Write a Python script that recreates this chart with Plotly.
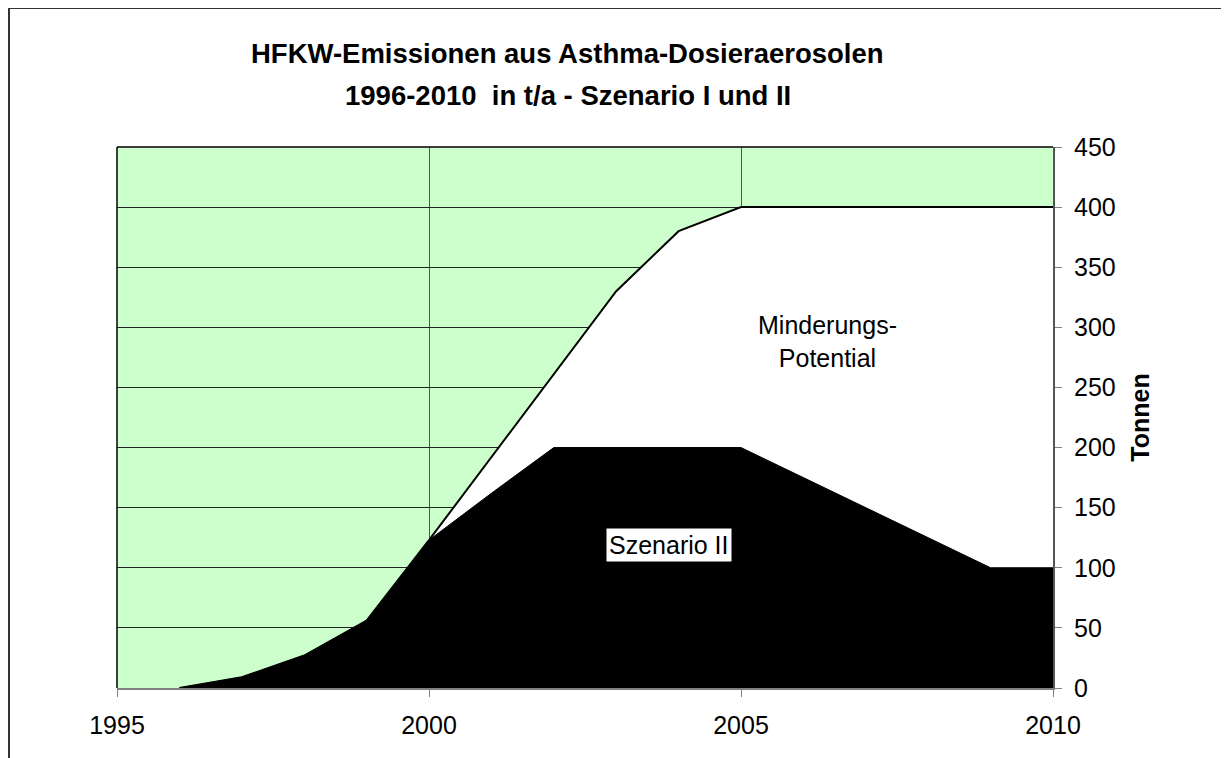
import plotly.graph_objects as go

years = [1996, 1997, 1998, 1999, 2000, 2001, 2002, 2003, 2004, 2005, 2006, 2007, 2008, 2009, 2010]
szenario_1 = [0, 9, 27, 56, 123, 192, 261, 330, 380, 400, 400, 400, 400, 400, 400]
szenario_2 = [0, 9, 27, 56, 123, 162, 200, 200, 200, 200, 175, 150, 125, 100, 100]
y_ticks = [0, 50, 100, 150, 200, 250, 300, 350, 400, 450]
x_ticks = [1995, 2000, 2005, 2010]
title_lines = ["HFKW-Emissionen aus Asthma-Dosieraerosolen",
               "1996-2010  in t/a - Szenario I und II"]

FONT = "Liberation Sans, Arial, sans-serif"

# page has an 8px body margin; figure is shifted accordingly
W, H = 1221, 750
L, T = 109, 139
PW, PH = 936, 541
R = W - L - PW
B = H - T - PH

def px_x(p):  # figure pixel -> paper x
    return (p - L) / PW

def px_y(p):  # figure pixel -> paper y
    return (T + PH - p) / PH

fig = go.Figure()
fig.add_trace(go.Scatter(
    x=years, y=szenario_1, mode="lines", fill="tozeroy",
    fillcolor="white", line=dict(color="black", width=2),
    name="Szenario I", showlegend=False, hoverinfo="skip"))
fig.add_trace(go.Scatter(
    x=years, y=szenario_2, mode="lines", fill="tozeroy",
    fillcolor="black", line=dict(color="black", width=1),
    name="Szenario II", showlegend=False, hoverinfo="skip"))

fig.update_layout(
    width=W, height=H,
    margin=dict(l=L, r=R, t=T, b=B, pad=0),
    paper_bgcolor="white",
    plot_bgcolor="#CCFFCC",
    font=dict(family=FONT, size=25, color="black"),
    xaxis=dict(
        range=[1995, 2010], tickvals=x_ticks, ticktext=[str(v) for v in x_ticks],
        showgrid=True, gridcolor="#555555", gridwidth=1,
        ticks="outside", ticklen=7, tickcolor="#808080",
        showline=True, linecolor="#808080", linewidth=2,
        zeroline=False, tickfont=dict(size=25), ticklabelstandoff=7),
    yaxis=dict(
        range=[0, 450], tickvals=y_ticks, side="right",
        showgrid=True, gridcolor="#222222", gridwidth=1,
        ticks="outside", ticklen=7, tickcolor="#808080",
        showline=True, linecolor="#555555", linewidth=2,
        zeroline=False, tickfont=dict(size=25), ticklabelstandoff=7,
        title=dict(text="<b>Tonnen</b>", font=dict(size=25), standoff=17)),
    annotations=[
        dict(x=0.4818, y=px_y(45), xref="paper", yref="paper",
             text="<b>" + title_lines[0] + "</b>", showarrow=False,
             xanchor="center", yanchor="middle",
             font=dict(size=27.5, color="black")),
        dict(x=0.4818, y=px_y(88), xref="paper", yref="paper",
             text="<b>" + title_lines[1] + "</b>", showarrow=False,
             xanchor="center", yanchor="middle",
             font=dict(size=27.5, color="black")),
        dict(x=2006.38, y=288, xref="x", yref="y", text="Minderungs-<br>Potential",
             showarrow=False, font=dict(size=25, color="black"), align="center"),
        dict(x=2003.85, y=119, xref="x", yref="y", text="Szenario II",
             showarrow=False, font=dict(size=25, color="black"),
             bgcolor="white", borderpad=2),
    ],
    shapes=[
        # plot border (left and top)
        dict(type="line", xref="paper", yref="paper", x0=0, x1=0, y0=0, y1=1,
             line=dict(color="black", width=1.5), layer="above"),
        dict(type="line", xref="paper", yref="paper", x0=0, x1=1, y0=1, y1=1,
             line=dict(color="black", width=1.5), layer="above"),
        # outer frame
        dict(type="rect", xref="paper", yref="paper",
             x0=px_x(1), x1=px_x(W + 20),
             y0=px_y(H + 20), y1=px_y(0),
             line=dict(color="#333333", width=2), layer="above"),
    ],
)

fig.write_html("out.html")
